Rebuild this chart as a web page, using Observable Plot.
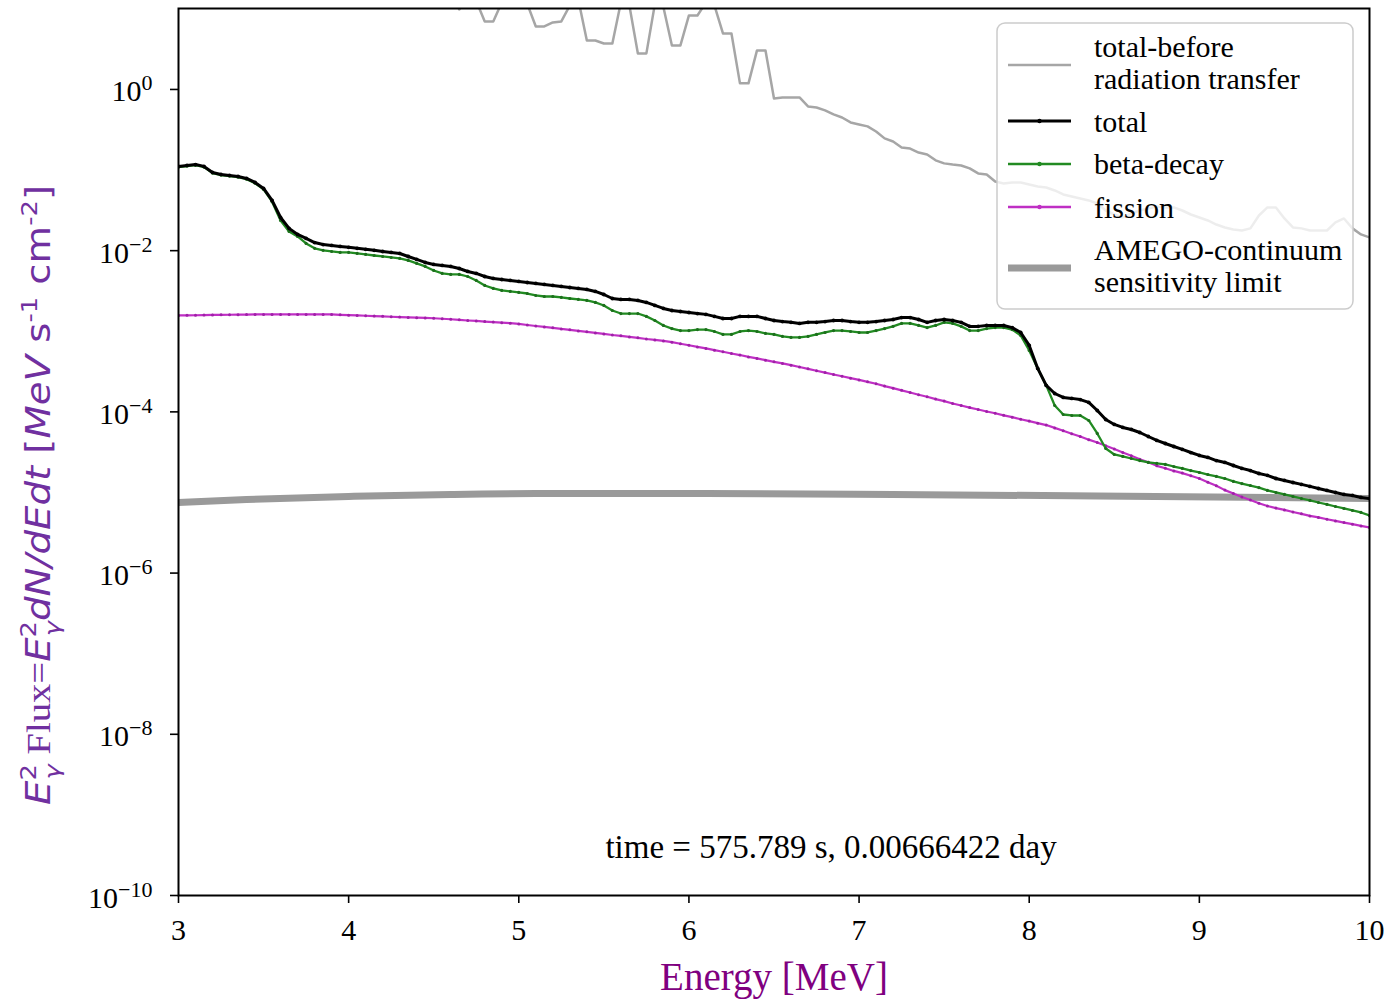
<!DOCTYPE html>
<html>
<head>
<meta charset="utf-8">
<script src="https://cdn.jsdelivr.net/npm/d3@7"></script>
<script src="https://cdn.jsdelivr.net/npm/@observablehq/plot@0.6"></script>
<style>
  html, body { margin: 0; padding: 0; background: #fff; }
  #chart { width: 1389px; height: 999px; }
</style>
</head>
<body>
<div id="chart"></div>
<script>
// Photon energy grid (MeV)
const energy = [
  3.00,3.05,3.10,3.15,3.20,3.25,3.30,3.35,3.40,3.45,
  3.50,3.55,3.60,3.65,3.70,3.75,3.80,3.85,3.90,3.95,
  4.00,4.05,4.10,4.15,4.20,4.25,4.30,4.35,4.40,4.45,
  4.50,4.55,4.60,4.65,4.70,4.75,4.80,4.85,4.90,4.95,
  5.00,5.05,5.10,5.15,5.20,5.25,5.30,5.35,5.40,5.45,
  5.50,5.55,5.60,5.65,5.70,5.75,5.80,5.85,5.90,5.95,
  6.00,6.05,6.10,6.15,6.20,6.25,6.30,6.35,6.40,6.45,
  6.50,6.55,6.60,6.65,6.70,6.75,6.80,6.85,6.90,6.95,
  7.00,7.05,7.10,7.15,7.20,7.25,7.30,7.35,7.40,7.45,
  7.50,7.55,7.60,7.65,7.70,7.75,7.80,7.85,7.90,7.95,
  8.00,8.05,8.10,8.15,8.20,8.25,8.30,8.35,8.40,8.45,
  8.50,8.55,8.60,8.65,8.70,8.75,8.80,8.85,8.90,8.95,
  9.00,9.05,9.10,9.15,9.20,9.25,9.30,9.35,9.40,9.45,
  9.50,9.55,9.60,9.65,9.70,9.75,9.80,9.85,9.90,9.95,
  10.00
];

// E^2 dN/dEdt (MeV s^-1 cm^-2)
const total = [
  1.11e-1,1.14e-1,1.17e-1,1.11e-1,9.34e-2,8.82e-2,8.57e-2,8.33e-2,7.87e-2,7.02e-2,
  5.91e-2,4.20e-2,2.58e-2,1.89e-2,1.59e-2,1.42e-2,1.26e-2,1.19e-2,1.16e-2,1.13e-2,
  1.10e-2,1.07e-2,1.04e-2,1.01e-2,9.77e-3,9.50e-3,9.23e-3,8.47e-3,7.78e-3,7.14e-3,
  6.74e-3,6.55e-3,6.37e-3,6.01e-3,5.52e-3,5.22e-3,4.78e-3,4.52e-3,4.39e-3,4.27e-3,
  4.15e-3,4.03e-3,3.92e-3,3.81e-3,3.70e-3,3.60e-3,3.49e-3,3.40e-3,3.30e-3,3.12e-3,
  2.86e-3,2.55e-3,2.48e-3,2.48e-3,2.41e-3,2.28e-3,2.09e-3,1.92e-3,1.81e-3,1.76e-3,
  1.71e-3,1.66e-3,1.62e-3,1.53e-3,1.44e-3,1.44e-3,1.53e-3,1.53e-3,1.53e-3,1.44e-3,
  1.36e-3,1.32e-3,1.29e-3,1.25e-3,1.29e-3,1.29e-3,1.32e-3,1.36e-3,1.36e-3,1.32e-3,
  1.29e-3,1.29e-3,1.32e-3,1.36e-3,1.40e-3,1.48e-3,1.48e-3,1.40e-3,1.29e-3,1.36e-3,
  1.40e-3,1.36e-3,1.29e-3,1.15e-3,1.15e-3,1.18e-3,1.18e-3,1.18e-3,1.11e-3,9.66e-4,
  6.67e-4,3.46e-4,2.13e-4,1.69e-4,1.51e-4,1.47e-4,1.42e-4,1.31e-4,1.04e-4,8.04e-5,
  6.98e-5,6.41e-5,6.05e-5,5.55e-5,4.95e-5,4.42e-5,4.05e-5,3.72e-5,3.42e-5,3.13e-5,
  2.88e-5,2.72e-5,2.49e-5,2.36e-5,2.16e-5,1.99e-5,1.87e-5,1.72e-5,1.63e-5,1.49e-5,
  1.41e-5,1.33e-5,1.26e-5,1.19e-5,1.12e-5,1.06e-5,1.00e-5,9.45e-6,9.18e-6,8.67e-6,
  8.42e-6
];

const betaDecay = [
  1.09e-1,1.12e-1,1.15e-1,1.09e-1,9.18e-2,8.66e-2,8.41e-2,8.17e-2,7.71e-2,6.86e-2,
  5.75e-2,4.05e-2,2.37e-2,1.73e-2,1.50e-2,1.23e-2,1.07e-2,1.01e-2,9.77e-3,9.50e-3,
  9.50e-3,9.23e-3,8.97e-3,8.71e-3,8.47e-3,8.23e-3,8.00e-3,7.56e-3,6.94e-3,6.37e-3,
  5.68e-3,5.22e-3,5.07e-3,5.07e-3,4.78e-3,4.27e-3,3.70e-3,3.40e-3,3.21e-3,3.12e-3,
  3.03e-3,2.94e-3,2.78e-3,2.70e-3,2.70e-3,2.63e-3,2.55e-3,2.48e-3,2.41e-3,2.28e-3,
  2.09e-3,1.81e-3,1.66e-3,1.66e-3,1.66e-3,1.53e-3,1.36e-3,1.18e-3,1.08e-3,1.02e-3,
  1.02e-3,1.05e-3,1.05e-3,9.94e-4,9.13e-4,9.13e-4,9.94e-4,1.02e-3,9.94e-4,9.39e-4,
  9.13e-4,8.62e-4,8.38e-4,8.38e-4,8.62e-4,9.13e-4,9.66e-4,1.02e-3,1.02e-3,9.94e-4,
  9.66e-4,9.66e-4,1.02e-3,1.08e-3,1.15e-3,1.25e-3,1.25e-3,1.18e-3,1.11e-3,1.18e-3,
  1.29e-3,1.25e-3,1.15e-3,1.02e-3,1.02e-3,1.08e-3,1.11e-3,1.11e-3,1.05e-3,8.87e-4,
  5.78e-4,3.46e-4,2.13e-4,1.20e-4,9.28e-5,9.02e-5,9.02e-5,7.82e-5,5.40e-5,3.51e-5,
  2.96e-5,2.80e-5,2.64e-5,2.49e-5,2.36e-5,2.29e-5,2.23e-5,2.10e-5,1.99e-5,1.87e-5,
  1.77e-5,1.67e-5,1.58e-5,1.49e-5,1.37e-5,1.29e-5,1.22e-5,1.15e-5,1.06e-5,1.00e-5,
  9.45e-6,8.92e-6,8.42e-6,7.96e-6,7.51e-6,7.10e-6,6.70e-6,6.33e-6,5.98e-6,5.65e-6,
  5.18e-6
];

const fission = [
  1.571e-3,1.575e-3,1.580e-3,1.589e-3,1.594e-3,1.598e-3,1.603e-3,1.607e-3,1.612e-3,1.616e-3,
  1.616e-3,1.616e-3,1.616e-3,1.616e-3,1.616e-3,1.616e-3,1.616e-3,1.616e-3,1.616e-3,1.598e-3,
  1.585e-3,1.571e-3,1.557e-3,1.544e-3,1.531e-3,1.513e-3,1.500e-3,1.487e-3,1.475e-3,1.462e-3,
  1.450e-3,1.429e-3,1.409e-3,1.385e-3,1.361e-3,1.342e-3,1.319e-3,1.300e-3,1.279e-3,1.260e-3,
  1.232e-3,1.197e-3,1.163e-3,1.131e-3,1.102e-3,1.068e-3,1.041e-3,1.009e-3,9.83e-4,9.53e-4,
  9.28e-4,8.99e-4,8.77e-4,8.50e-4,8.28e-4,8.02e-4,7.82e-4,7.58e-4,7.32e-4,7.00e-4,
  6.71e-4,6.39e-4,6.12e-4,5.83e-4,5.57e-4,5.30e-4,5.07e-4,4.81e-4,4.60e-4,4.38e-4,
  4.18e-4,3.99e-4,3.80e-4,3.60e-4,3.42e-4,3.24e-4,3.07e-4,2.91e-4,2.77e-4,2.62e-4,
  2.49e-4,2.36e-4,2.23e-4,2.09e-4,1.97e-4,1.85e-4,1.74e-4,1.63e-4,1.54e-4,1.44e-4,
  1.36e-4,1.27e-4,1.20e-4,1.13e-4,1.07e-4,1.01e-4,9.61e-5,9.05e-5,8.59e-5,8.09e-5,
  7.69e-5,7.24e-5,6.86e-5,6.33e-5,5.84e-5,5.35e-5,4.94e-5,4.52e-5,4.17e-5,3.79e-5,
  3.46e-5,3.13e-5,2.86e-5,2.59e-5,2.37e-5,2.14e-5,2.00e-5,1.85e-5,1.74e-5,1.61e-5,
  1.49e-5,1.34e-5,1.21e-5,1.07e-5,9.69e-6,8.77e-6,8.07e-6,7.35e-6,6.80e-6,6.40e-6,
  6.08e-6,5.73e-6,5.43e-6,5.12e-6,4.90e-6,4.65e-6,4.44e-6,4.23e-6,4.04e-6,3.85e-6,
  3.68e-6
];

// Flux before the radiation transfer step (runs off the top of the axes at low energy)
const totalBefore = [
  31,33,30,28,34,36,32,29,27,30,
  33,35,31,28,26,29,32,30,27,25,
  28,31,26,24,27,29,23,25,22,24,
  21,19,17,9.83,14,12.5,6.98,6.98,12,15,
  13,11.5,6.05,6.05,6.78,6.98,11,13,4.05,4.05,
  3.72,3.72,12,11,2.80,2.80,11.5,10.5,3.52,3.52,
  8.28,8.28,12,11,4.95,4.95,1.19,1.19,3.05,3.05,
  0.773,0.796,0.796,0.796,0.615,0.598,0.549,0.490,0.449,0.390,
  0.368,0.348,0.301,0.247,0.226,0.191,0.185,0.165,0.156,0.132,
  0.121,0.117,0.114,0.105,0.0908,0.0882,0.0722,0.0682,0.0702,0.0702,
  0.0663,0.0626,0.0608,0.0558,0.0498,0.0470,0.0444,0.0420,0.0385,0.0315,
  0.0281,0.0258,0.0289,0.0315,0.0334,0.0354,0.0344,0.0344,0.0315,0.0281,
  0.0258,0.0237,0.0211,0.0194,0.0183,0.0178,0.0189,0.0273,0.0344,0.0344,
  0.0251,0.0194,0.0189,0.0178,0.0178,0.0178,0.0224,0.0251,0.0189,0.0159,
  0.0146
];

// AMEGO continuum sensitivity
const amegoEnergy = [3.0, 3.4, 4.0, 4.6, 5.1, 6.1, 7.2, 8.4, 10.0];
const amegoLimit  = [7.52e-6, 8.19e-6, 8.92e-6, 9.45e-6, 9.72e-6, 9.72e-6, 9.45e-6, 9.05e-6, 8.42e-6];

const xTicks = [3, 4, 5, 6, 7, 8, 9, 10];
const yTicks = [1e-10, 1e-8, 1e-6, 1e-4, 1e-2, 1];

const timeLabel = "time = 575.789 s, 0.00666422 day";
const xLabel = "Energy [MeV]";

const legendItems = [
  {lines: ["total-before", "radiation transfer"], color: "#a6a6a6", width: 2.5, dot: false},
  {lines: ["total"], color: "#000000", width: 3, dot: true},
  {lines: ["beta-decay"], color: "#228b22", width: 2.5, dot: true},
  {lines: ["fission"], color: "#bf2fc4", width: 2.5, dot: true},
  {lines: ["AMEGO-continuum", "sensitivity limit"], color: "#9a9a9a", width: 7, dot: false}
];

const rows = energy.map((e, i) => ({
  energy: e, total: total[i], beta: betaDecay[i], fission: fission[i], before: totalBefore[i]
}));
const amego = amegoEnergy.map((e, i) => ({energy: e, limit: amegoLimit[i]}));

const serif = "'Liberation Serif', 'Times New Roman', serif";

const plot = Plot.plot({
  width: 1389,
  height: 999,
  marginLeft: 178,
  marginRight: 20,
  marginTop: 8,
  marginBottom: 104,
  style: {fontFamily: serif, fontSize: "30px", background: "white", color: "black"},
  x: {domain: [3, 10]},
  y: {type: "log", domain: [1e-10, 10.1]},
  marks: [
    Plot.line(amego, {x: "energy", y: "limit", stroke: "#9a9a9a", strokeWidth: 7, curve: "natural", clip: true}),
    Plot.line(rows, {x: "energy", y: "before", stroke: "#a6a6a6", strokeWidth: 2.5, clip: true}),
    Plot.line(rows, {x: "energy", y: "fission", stroke: "#bf2fc4", strokeWidth: 2.2, clip: true}),
    Plot.dot(rows, {x: "energy", y: "fission", r: 1.5, fill: "#a020a8", clip: true}),
    Plot.line(rows, {x: "energy", y: "beta", stroke: "#228b22", strokeWidth: 2.3, clip: true}),
    Plot.dot(rows, {x: "energy", y: "beta", r: 1.6, fill: "#1c6f1c", clip: true}),
    Plot.line(rows, {x: "energy", y: "total", stroke: "#000000", strokeWidth: 3, clip: true}),
    Plot.dot(rows, {x: "energy", y: "total", r: 1.9, fill: "#000000", clip: true}),
    Plot.text([timeLabel], {frameAnchor: "bottom", lineAnchor: "middle", dx: 57, dy: -48, fontSize: 33, fill: "black"}),
    Plot.text([xLabel], {frameAnchor: "bottom", lineAnchor: "middle", dy: 82, fontSize: 39, fill: "#800080"}),
    Plot.frame({stroke: "black", strokeWidth: 2}),
    Plot.axisX({ticks: xTicks, tickSize: 8, tickPadding: 15, tickFormat: d => String(d), label: null, fontSize: 30, strokeWidth: 1.6}),
    Plot.axisY({
      ticks: yTicks, tickSize: 8, tickPadding: 18, label: null, fontSize: 30, strokeWidth: 1.6,
      tickFormat: d => "10^" + String(Math.round(Math.log10(d))).replace("-", "\u2212")
    })
  ]
});

document.getElementById("chart").appendChild(plot);
const svg = d3.select(plot);

// Power-of-ten tick labels with raised exponents
svg.selectAll('g[aria-label="y-axis tick label"] text').each(function () {
  const [base, exp] = this.textContent.split("^");
  const t = d3.select(this);
  t.text(null).attr("dy", "0.08em");
  t.append("tspan").text(base);
  t.append("tspan").attr("dy", "-0.5em").attr("font-size", "22px").text(exp);
});

// Rotated y-axis title with math-style sub/superscripts
const sans = "'DejaVu Sans', sans-serif";
const ylab = svg.append("text")
  .attr("transform", "translate(50,805) rotate(-90)")
  .attr("text-anchor", "start")
  .attr("fill", "#7030a0")
  .attr("font-size", 33)
  .attr("font-family", sans)
  .attr("textLength", 620)
  .attr("lengthAdjust", "spacingAndGlyphs");
const part = (txt, opts = {}) => {
  const s = ylab.append("tspan").text(txt);
  for (const [k, v] of Object.entries(opts)) s.attr(k, v);
  return s;
};
part("E", {"font-style": "italic"});
part("2", {"font-size": 22, dy: -14});
part("\u03b3", {"font-size": 22, dx: -13, dy: 24, "font-style": "italic"});
part(" Flux=", {"font-family": serif, dy: -10});
part("E", {"font-style": "italic"});
part("2", {"font-size": 22, dy: -14});
part("\u03b3", {"font-size": 22, dx: -13, dy: 24, "font-style": "italic"});
part("dN/dEdt", {"font-style": "italic", dy: -10});
part(" [", {});
part("MeV", {"font-style": "italic"});
part(" s", {});
part("-1", {"font-size": 22, dy: -13});
part(" cm", {dy: 13});
part("-2", {"font-size": 22, dy: -13});
part("]", {dy: 13});

// Legend box
const lg = svg.append("g").attr("text-anchor", "start");
lg.append("rect")
  .attr("x", 997).attr("y", 23).attr("width", 356).attr("height", 286).attr("rx", 8)
  .attr("fill", "white").attr("fill-opacity", 0.8)
  .attr("stroke", "#cccccc").attr("stroke-width", 1.5);
const lineY = [65, 121, 164, 207, 268];
const textY = [[57, 89], [132], [174], [218], [260, 292]];
legendItems.forEach((item, k) => {
  lg.append("line")
    .attr("x1", 1008).attr("x2", 1071).attr("y1", lineY[k]).attr("y2", lineY[k])
    .attr("stroke", item.color).attr("stroke-width", item.width);
  if (item.dot) {
    lg.append("circle").attr("cx", 1039.5).attr("cy", lineY[k]).attr("r", 2.2).attr("fill", item.color);
  }
  item.lines.forEach((ln, j) => {
    lg.append("text")
      .attr("x", 1094).attr("y", textY[k][j])
      .attr("text-anchor", "start")
      .attr("font-family", serif).attr("font-size", 30).attr("fill", "black")
      .text(ln);
  });
});
</script>
</body>
</html>
